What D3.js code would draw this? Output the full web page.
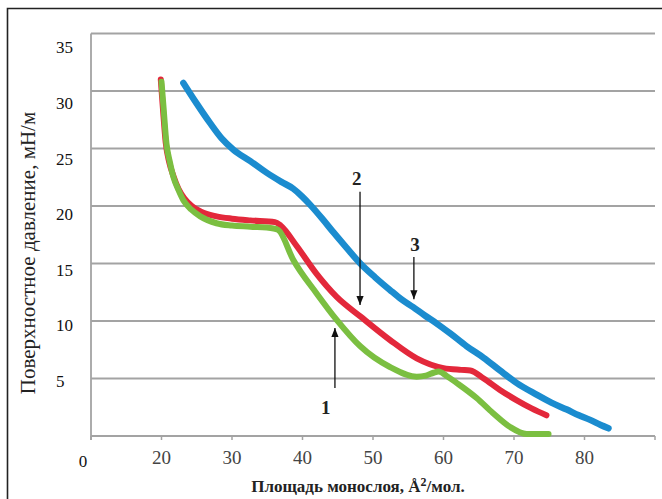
<!DOCTYPE html>
<html><head><meta charset="utf-8">
<script src="https://cdn.jsdelivr.net/npm/d3@7"></script>
<style>body{margin:0;background:#fff}svg{display:block}svg text{font-family:"Liberation Serif","DejaVu Serif",serif}</style>
</head><body>
<script>
const xTicks = [20, 30, 40, 50, 60, 70, 80];
const xTickMarks = [10, 20, 30, 40, 50, 60, 70, 80, 90];
const yTicks = [5, 10, 15, 20, 25, 30, 35];

const greenX = [20.0, 20.3, 20.7, 21.2, 21.7, 22.4, 23.1, 24.2, 25.5, 27.8, 30, 32.6, 35.9, 36.6, 38.7, 42.0, 44.85, 48.2, 52.4, 56.2, 57.5, 58.6, 59.3, 60.5, 61.9, 64.7, 67, 69.4, 71.8, 74.9];
const greenY = [30.8, 28.5, 25.45, 23.8, 22.5, 21.4, 20.5, 19.7, 19.1, 18.5, 18.3, 18.2, 18.05, 17.9, 15.3, 12.4, 10.1, 7.8, 6.0, 5.16, 5.25, 5.5, 5.6, 5.2, 4.6, 3.3, 2.0, 0.8, 0.17, 0.17];
const redX = [19.9, 20.2, 20.6, 21.1, 21.7, 22.4, 23.2, 24.3, 25.6, 27.8, 30, 32.6, 36.1, 36.9, 39.2, 42.0, 44.85, 48.2, 52.4, 56.2, 60.0, 62.5, 63.8, 65.7, 68.0, 70.4, 72.5, 74.6];
const redY = [31.0, 28.5, 25.5, 23.8, 22.6, 21.5, 20.7, 20.0, 19.5, 19.1, 18.9, 18.75, 18.6, 18.3, 16.5, 14.1, 12.1, 10.4, 8.35, 6.75, 5.9, 5.75, 5.7, 5.0, 4.0, 3.1, 2.4, 1.8];
const blueX = [23.1, 25, 26.9, 28.5, 30.2, 32.6, 34.9, 37, 38.7, 40, 41.1, 42.8, 44.4, 46.2, 48.2, 50.3, 52.4, 54, 55.7, 57.3, 59, 61, 63.3, 65.7, 68, 70.4, 73.2, 75.3, 77.5, 79.2, 80.8, 82.3, 83.4];
const blueY = [30.7, 28.9, 27.2, 25.9, 24.9, 23.9, 22.9, 22.1, 21.5, 20.8, 20.1, 18.9, 17.7, 16.4, 15.0, 13.8, 12.7, 11.9, 11.2, 10.5, 9.8, 8.9, 7.8, 6.8, 5.7, 4.6, 3.6, 2.9, 2.3, 1.8, 1.4, 0.95, 0.67];

const annoLabels = ["1", "2", "3"];
const annoLabelX = [43.3, 47.7, 55.96];
const annoLabelY = [2.5, 22.4, 16.7];
const arrowX = [44.6, 48.16, 55.8];
const arrowFrom = [4.17, 21.24, 15.57];
const arrowTo = [9.39, 11.39, 11.9];

const W = 662, H = 499;
const svg = d3.select("body").append("svg").attr("width", W).attr("height", H);

// outer frame
svg.append("path").attr("d", `M7.5,${H} L7.5,8.5 L${W},8.5`).attr("fill", "none").attr("stroke", "#222").attr("stroke-width", 1.6);

const x = d3.scaleLinear().domain([10, 90]).range([91, 655]);
const y = d3.scaleLinear().domain([0, 35]).range([436, 33.5]);
const yLab = d3.scaleLinear().domain([5, 35]).range([381, 47.5]);

// gridlines
svg.append("g").selectAll("line").data(yTicks).join("line")
  .attr("x1", x(10)).attr("x2", x(90))
  .attr("y1", d => y(d)).attr("y2", d => y(d))
  .attr("stroke", "#a3a3a3").attr("stroke-width", 1.8);

// axes lines
svg.append("line").attr("x1", x(10)).attr("x2", x(10)).attr("y1", y(35)).attr("y2", y(0) + 4)
  .attr("stroke", "#a3a3a3").attr("stroke-width", 1.8);
svg.append("line").attr("x1", x(10)).attr("x2", x(90)).attr("y1", y(0)).attr("y2", y(0))
  .attr("stroke", "#a3a3a3").attr("stroke-width", 1.8);
svg.append("g").selectAll("line").data(xTickMarks).join("line")
  .attr("x1", d => x(d)).attr("x2", d => x(d)).attr("y1", y(0)).attr("y2", y(0) + 4)
  .attr("stroke", "#a3a3a3").attr("stroke-width", 1.5);

// tick labels
svg.append("g").selectAll("text").data(xTicks).join("text")
  .attr("x", d => x(d)).attr("y", y(0) + 28).attr("text-anchor", "middle")
  .attr("font-size", 19).attr("fill", "#444")
  .text(d => d);
svg.append("g").selectAll("text").data(yTicks).join("text")
  .attr("x", 56).attr("y", d => yLab(d)).attr("dy", "0.35em")
  .attr("font-size", 17).attr("fill", "#111")
  .text(d => d);
svg.append("text").attr("x", x(10) - 8).attr("y", y(0) + 25).attr("dy", "0.35em").attr("text-anchor", "middle")
  .attr("font-size", 17).attr("fill", "#111").text("0");

// axis titles
svg.append("text").attr("x", 358).attr("y", 492).attr("text-anchor", "middle")
  .attr("font-size", 17).attr("font-weight", "bold").attr("fill", "#222")
  .html("Площадь монослоя, Å<tspan font-size='12' dy='-6'>2</tspan><tspan dy='6'>/мол.</tspan>");
svg.append("text").attr("transform", "translate(35,253) rotate(-90)").attr("text-anchor", "middle")
  .attr("font-size", 21).attr("fill", "#222")
  .text("Поверхностное давление, мН/м");

// curves
const line = d3.line().x(d => x(d[0])).y(d => y(d[1])).curve(d3.curveMonotoneX);
const series = [
  {xs: blueX, ys: blueY, color: "#1b8ccf", w: 6.5},
  {xs: redX, ys: redY, color: "#e3283b", w: 6},
  {xs: greenX, ys: greenY, color: "#7bbf41", w: 6}
];
series.forEach(s => {
  svg.append("path").datum(s.xs.map((v, i) => [v, s.ys[i]]))
    .attr("d", line).attr("fill", "none").attr("stroke", s.color)
    .attr("stroke-width", s.w).attr("stroke-linecap", "round").attr("stroke-linejoin", "round");
});

// arrows
svg.append("defs").append("marker").attr("id", "ah").attr("viewBox", "0 0 10 10")
  .attr("refX", 10).attr("refY", 5).attr("markerWidth", 9).attr("markerHeight", 9)
  .attr("markerUnits", "userSpaceOnUse").attr("orient", "auto")
  .append("path").attr("d", "M0,1 L10,5 L0,9 Z").attr("fill", "#111");
svg.append("g").selectAll("line").data(arrowX).join("line")
  .attr("x1", d => x(d)).attr("x2", d => x(d))
  .attr("y1", (d, i) => y(arrowFrom[i])).attr("y2", (d, i) => y(arrowTo[i]))
  .attr("stroke", "#111").attr("stroke-width", 1.3).attr("marker-end", "url(#ah)");
svg.append("g").selectAll("text").data(annoLabels).join("text")
  .attr("x", (d, i) => x(annoLabelX[i])).attr("y", (d, i) => y(annoLabelY[i])).attr("dy", "0.35em")
  .attr("text-anchor", "middle").attr("font-size", 19).attr("font-weight", "bold")
  .attr("fill", "#222").text(d => d);
</script>
</body></html>
